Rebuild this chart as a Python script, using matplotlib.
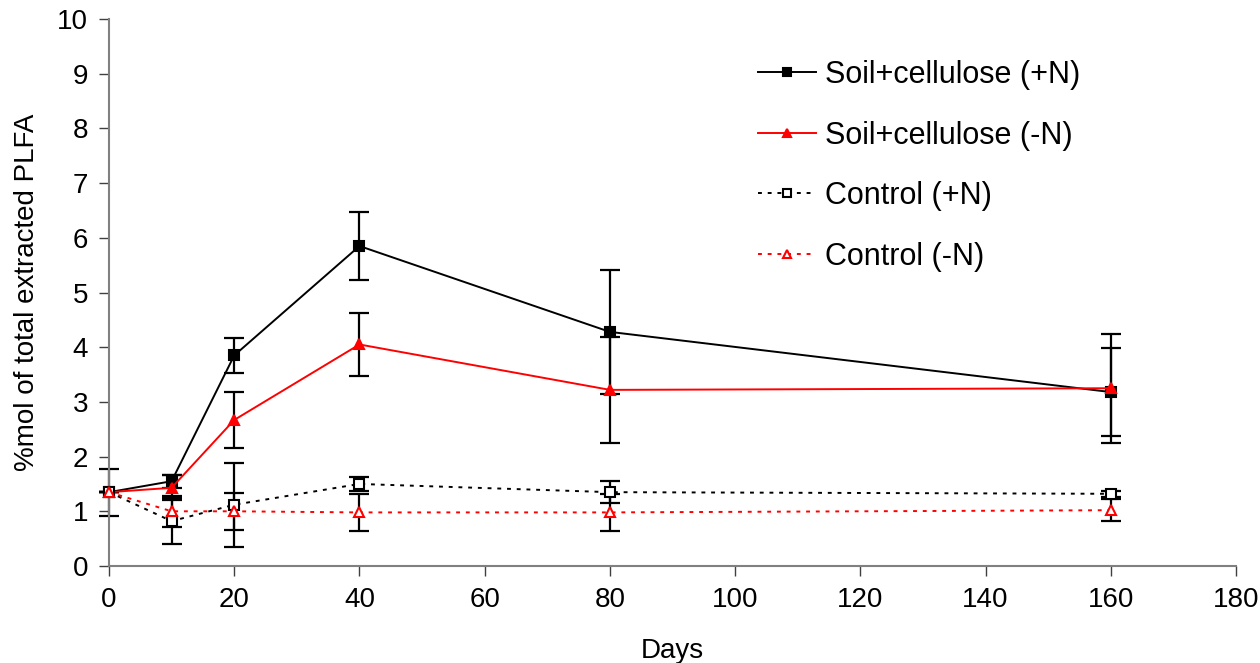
import matplotlib.pyplot as plt

plt.rcParams["font.family"] = ["Liberation Sans", "DejaVu Sans"]

days = [0, 10, 20, 40, 80, 160]

soil_pn = [1.35, 1.55, 3.85, 5.85, 4.28, 3.18]
soil_pn_err = [0.43, 0.12, 0.32, 0.63, 1.13, 0.80]
soil_mn = [1.35, 1.43, 2.67, 4.05, 3.22, 3.25]
soil_mn_err = [0.0, 0.23, 0.51, 0.58, 0.97, 1.00]
ctrl_pn = [1.35, 0.82, 1.12, 1.50, 1.35, 1.32]
ctrl_pn_err = [0.0, 0.42, 0.77, 0.12, 0.20, 0.05]
ctrl_mn = [1.35, 1.00, 1.00, 0.98, 0.98, 1.02]
ctrl_mn_err = [0.0, 0.28, 0.34, 0.34, 0.34, 0.20]

series = [
    ("Soil+cellulose (+N)", soil_pn, soil_pn_err, "black", "-", "s", "black"),
    ("Soil+cellulose (-N)", soil_mn, soil_mn_err, "red", "-", "^", "red"),
    ("Control (+N)", ctrl_pn, ctrl_pn_err, "black", (0, (2, 3)), "s", "white"),
    ("Control (-N)", ctrl_mn, ctrl_mn_err, "red", (0, (2, 3)), "^", "white"),
]

fig = plt.figure(figsize=(12.6, 6.63), dpi=100)
ax = fig.add_axes([0.0865, 0.1463, 0.8945, 0.825])

for label, vals, errs, col, ls, mk, face in series:
    eb = ax.errorbar(days, vals, yerr=errs, fmt="none", ecolor="black",
                     elinewidth=1.6, capsize=7, capthick=1.6, zorder=2)
    for art in eb.lines[1] + eb.lines[2]:
        art.set_clip_on(False)
    ax.plot(days, vals, color=col, linestyle=ls, linewidth=1.4,
            marker=mk, markersize=7.5, markerfacecolor=face,
            markeredgecolor=col, markeredgewidth=1.5, label=label,
            zorder=3, clip_on=False)

ax.set_xlim(0, 180)
ax.set_ylim(0, 10)
ax.set_xticks(range(0, 181, 20))
ax.set_yticks(range(0, 11))
ax.spines["top"].set_visible(False)
ax.spines["right"].set_visible(False)
for s in ("left", "bottom"):
    ax.spines[s].set_color("#808080")
    ax.spines[s].set_linewidth(1.5)
ax.tick_params(direction="out", length=7, width=1, color="#404040",
               labelsize=20, pad=8)
ax.set_xlabel("Days", fontsize=20, labelpad=18)
ax.set_ylabel("%mol of total extracted PLFA", fontsize=20, labelpad=12)

ax.legend(loc="upper left", bbox_to_anchor=(0.576, 0.925), frameon=False,
          fontsize=22, labelspacing=1.0, handlelength=1.9,
          handletextpad=0.3, borderpad=0, borderaxespad=0, markerscale=0.85)

fig.savefig("out.png", dpi=100)
